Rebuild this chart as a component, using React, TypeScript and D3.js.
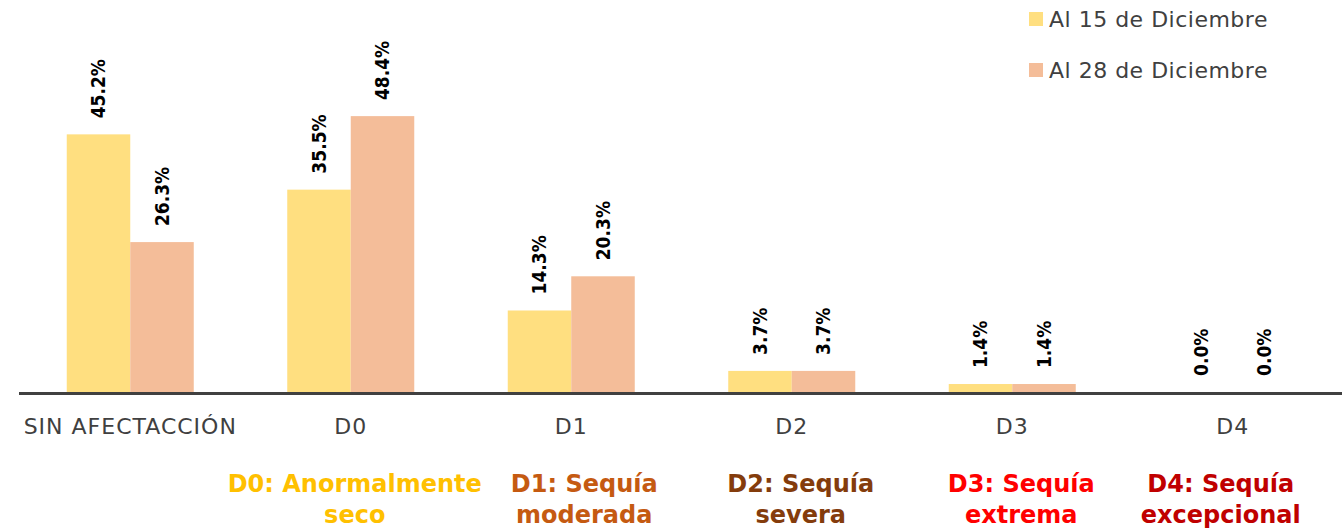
import React, { useEffect, useRef } from "react";
import * as d3 from "d3";

// chart values
const categories = ["SIN AFECTACCIÓN", "D0", "D1", "D2", "D3", "D4"];
const seriesNames = ["Al 15 de Diciembre", "Al 28 de Diciembre"];
const dic15 = [45.2, 35.5, 14.3, 3.7, 1.4, 0.0];
const dic28 = [26.3, 48.4, 20.3, 3.7, 1.4, 0.0];
const seriesColors = ["#FFDF80", "#F4BD99"];

// drought descriptions under the axis
const droughtCats = ["D0", "D1", "D2", "D3", "D4"];
const droughtLines = [
  ["D0: Anormalmente", "seco"],
  ["D1: Sequía", "moderada"],
  ["D2: Sequía", "severa"],
  ["D3: Sequía", "extrema"],
  ["D4: Sequía", "excepcional"],
];
const droughtColors = ["#FFC000", "#C55A11", "#843C0C", "#FF0000", "#C00000"];

const width = 1342;
const height = 530;
// the description boxes are not exactly centred under their category
const descNudge = [4, 13, 9, 9, -12];

const App: React.FC = () => {
  const svgRef = useRef<SVGSVGElement | null>(null);

  useEffect(() => {
    const svg = d3.select(svgRef.current);
    svg.selectAll("*").remove();

    const baseY = 392;
    const x0 = d3
      .scaleBand<string>()
      .domain(categories)
      .range([20, 1343])
      .paddingInner(0.424)
      .paddingOuter(0.212);
    const x1 = d3
      .scaleBand<number>()
      .domain([0, 1])
      .range([0, x0.bandwidth()]);
    const y = d3.scaleLinear().domain([0, 50]).range([baseY, baseY - 285]);

    const series = [dic15, dic28];

    // bars
    series.forEach((values, s) => {
      svg
        .append("g")
        .selectAll("rect")
        .data(values)
        .enter()
        .append("rect")
        .attr("x", (_, i) => (x0(categories[i]) as number) + (x1(s) as number))
        .attr("y", (d) => y(d))
        .attr("width", x1.bandwidth())
        .attr("height", (d) => baseY - y(d))
        .attr("fill", seriesColors[s]);

      // value labels, rotated
      svg
        .append("g")
        .selectAll("text")
        .data(values)
        .enter()
        .append("text")
        .attr("transform", (d, i) => {
          const cx =
            (x0(categories[i]) as number) + (x1(s) as number) + x1.bandwidth() / 2;
          return `translate(${cx},${y(d) - 16}) rotate(-90)`;
        })
        .attr("dy", "0.36em")
        .attr("text-anchor", "start")
        .style("font-family", "DejaVu Sans Condensed, DejaVu Sans")
        .style("font-weight", "bold")
        .style("font-size", "19px")
        .attr("fill", "#000")
        .text((d) => d.toFixed(1) + "%");
    });

    // axis line
    svg
      .append("line")
      .attr("x1", 19)
      .attr("x2", width)
      .attr("y1", baseY + 1.5)
      .attr("y2", baseY + 1.5)
      .attr("stroke", "#404040")
      .attr("stroke-width", 3);

    // category labels
    svg
      .append("g")
      .selectAll("text")
      .data(categories)
      .enter()
      .append("text")
      .attr("x", (d) => (x0(d) as number) + x0.bandwidth() / 2)
      .attr("y", 434)
      .attr("text-anchor", "middle")
      .style("font-family", "DejaVu Sans")
      .style("font-size", "22px")
      .style("letter-spacing", "1px")
      .attr("fill", "#404040")
      .text((d) => d);

    // legend
    const legend = svg
      .append("g")
      .selectAll("g")
      .data(seriesNames)
      .enter()
      .append("g")
      .attr("transform", (_, i) => `translate(1029,${12 + i * 51})`);
    legend
      .append("rect")
      .attr("width", 14)
      .attr("height", 14)
      .attr("fill", (_, i) => seriesColors[i]);
    legend
      .append("text")
      .attr("x", 20)
      .attr("y", 15)
      .style("font-family", "DejaVu Sans")
      .style("font-size", "22px")
      .style("letter-spacing", "0.5px")
      .attr("fill", "#404040")
      .text((d) => d);

    // drought descriptions
    const desc = svg
      .append("g")
      .selectAll("text")
      .data(droughtCats)
      .enter()
      .append("text")
      .attr("text-anchor", "middle")
      .style("font-family", "DejaVu Sans")
      .style("font-weight", "bold")
      .style("font-size", "24px")
      .attr("fill", (_, i) => droughtColors[i]);
    desc
      .selectAll("tspan")
      .data((_, i) => droughtLines[i].map((t) => ({ t, i })))
      .enter()
      .append("tspan")
      .attr(
        "x",
        (d) =>
          (x0(droughtCats[d.i]) as number) + x0.bandwidth() / 2 + descNudge[d.i]
      )
      .attr("y", (_, j) => 492 + j * 31)
      .text((d) => d.t);
  }, []);

  return (
    <svg
      ref={svgRef}
      width={width}
      height={height}
      style={{ position: "absolute", left: 0, top: 0, background: "#fff" }}
    />
  );
};

export default App;
